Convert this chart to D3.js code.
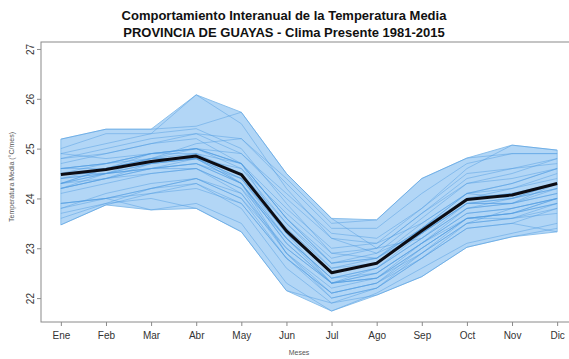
<!DOCTYPE html>
<html>
<head>
<meta charset="utf-8">
<script src="https://cdn.jsdelivr.net/npm/d3@7"></script>
<style>
  html, body { margin: 0; padding: 0; background: #fff; }
  svg { display: block; }
  text { font-family: "Liberation Sans", Arial, Helvetica, sans-serif; }
</style>
</head>
<body>
<svg id="chart" width="569" height="359"></svg>
<script>
// Monthly mean temperature, Guayas province, 1981-2015
const months = ["Ene", "Feb", "Mar", "Abr", "May", "Jun", "Jul", "Ago", "Sep", "Oct", "Nov", "Dic"];
const yTicks = [22, 23, 24, 25, 26, 27];

// Envelope of all years (max / min per month)
const bandMax = [25.19, 25.39, 25.39, 26.08, 25.73, 24.50, 23.60, 23.57, 24.40, 24.81, 25.07, 24.97];
const bandMin = [23.47, 23.87, 23.77, 23.80, 23.33, 22.15, 21.74, 22.06, 22.43, 23.02, 23.23, 23.33];

// Multi-year monthly mean
const meanTemp = [24.48, 24.58, 24.74, 24.85, 24.48, 23.35, 22.51, 22.70, 23.35, 23.98, 24.07, 24.30];

// One row per year
const years = [1981, 1982, 1983, 1984, 1985, 1986, 1987, 1988, 1989, 1990, 1991, 1992,
  1993, 1994, 1995, 1996, 1997, 1998, 1999, 2000, 2001, 2002, 2003, 2004, 2005, 2006,
  2007, 2008, 2009, 2010, 2011, 2012, 2013, 2014, 2015];
const annualTemps = [
  [24.2, 24.5, 24.6, 24.7, 24.3, 23.1, 22.3, 22.5, 23.1, 23.6, 23.7, 24.0],
  [24.6, 24.7, 24.9, 25.0, 24.9, 24.1, 23.3, 23.2, 23.8, 24.6, 25.07, 24.97],
  [25.19, 25.39, 25.39, 25.45, 25.73, 24.5, 23.6, 23.0, 23.2, 23.9, 23.9, 24.2],
  [24.1, 24.3, 24.5, 24.6, 24.2, 23.2, 22.4, 22.5, 23.1, 23.7, 23.8, 24.0],
  [23.9, 24.0, 24.2, 24.3, 23.8, 22.6, 21.9, 22.2, 22.8, 23.4, 23.5, 23.8],
  [23.8, 24.1, 24.3, 24.4, 24.0, 23.0, 22.3, 22.6, 23.3, 24.0, 24.2, 24.5],
  [24.8, 25.0, 25.2, 25.3, 24.9, 24.0, 23.2, 23.1, 23.5, 24.1, 24.0, 24.3],
  [24.4, 24.5, 24.6, 24.6, 24.2, 22.9, 22.0, 22.2, 22.8, 23.5, 23.6, 23.7],
  [23.47, 23.87, 24.1, 24.3, 23.9, 22.8, 22.1, 22.3, 22.9, 23.5, 23.8, 24.0],
  [24.3, 24.4, 24.6, 24.7, 24.3, 23.2, 22.4, 22.6, 23.2, 23.8, 23.9, 24.3],
  [24.4, 24.6, 24.9, 25.0, 24.7, 23.6, 22.7, 22.8, 23.4, 24.1, 24.3, 24.6],
  [24.9, 25.1, 25.3, 25.4, 25.0, 23.9, 22.9, 22.8, 23.3, 23.9, 24.0, 24.2],
  [24.6, 24.7, 24.9, 25.0, 24.6, 23.5, 22.6, 22.7, 23.3, 23.9, 24.0, 24.3],
  [24.2, 24.4, 24.6, 24.7, 24.4, 23.3, 22.5, 22.7, 23.4, 24.1, 24.3, 24.6],
  [24.6, 24.7, 24.8, 24.8, 24.4, 23.2, 22.3, 22.4, 23.0, 23.6, 23.7, 23.9],
  [23.9, 24.0, 24.1, 24.2, 23.9, 22.8, 22.0, 22.2, 22.9, 23.6, 23.6, 23.9],
  [24.3, 24.5, 24.8, 25.1, 25.2, 24.4, 23.5, 23.57, 24.4, 24.81, 24.9, 24.9],
  [25.0, 25.3, 25.3, 26.08, 25.5, 24.2, 23.2, 22.9, 23.3, 23.9, 23.9, 24.1],
  [23.9, 24.0, 23.77, 23.9, 23.5, 22.3, 21.74, 22.1, 22.6, 23.1, 23.3, 23.5],
  [23.7, 23.9, 24.0, 23.8, 23.33, 22.15, 21.9, 22.06, 22.43, 23.02, 23.23, 23.4],
  [24.3, 24.5, 24.7, 24.8, 24.3, 23.1, 22.3, 22.5, 23.1, 23.7, 23.8, 24.0],
  [24.5, 24.7, 24.9, 25.0, 24.7, 23.6, 22.8, 23.0, 23.7, 24.3, 24.4, 24.6],
  [24.6, 24.6, 24.7, 24.8, 24.4, 23.3, 22.5, 22.7, 23.4, 24.0, 24.1, 24.3],
  [24.4, 24.5, 24.7, 24.9, 24.5, 23.4, 22.6, 22.8, 23.5, 24.1, 24.2, 24.4],
  [24.5, 24.5, 24.6, 24.8, 24.3, 23.2, 22.4, 22.6, 23.2, 23.8, 23.9, 24.1],
  [24.3, 24.6, 24.8, 24.8, 24.5, 23.5, 22.7, 22.9, 23.6, 24.3, 24.5, 24.8],
  [24.9, 24.8, 24.9, 24.9, 24.3, 22.9, 22.1, 22.3, 22.8, 23.4, 23.5, 23.33],
  [23.6, 23.9, 24.2, 24.4, 24.0, 22.8, 22.1, 22.3, 23.0, 23.6, 23.7, 23.9],
  [24.2, 24.4, 24.7, 24.8, 24.6, 23.7, 22.9, 23.0, 23.7, 24.4, 24.6, 24.8],
  [24.7, 24.9, 25.1, 25.2, 24.7, 23.3, 22.3, 22.4, 22.9, 23.5, 23.6, 23.8],
  [23.8, 24.0, 24.2, 24.4, 24.1, 23.0, 22.3, 22.4, 23.0, 23.6, 23.7, 24.0],
  [24.3, 24.6, 24.8, 25.0, 24.7, 23.6, 22.7, 22.8, 23.4, 24.0, 24.1, 24.3],
  [24.2, 24.4, 24.5, 24.6, 24.1, 22.9, 22.2, 22.4, 23.1, 23.8, 24.0, 24.2],
  [24.5, 24.6, 24.8, 24.9, 24.7, 23.8, 23.0, 23.1, 23.8, 24.5, 24.6, 24.7],
  [24.8, 24.9, 25.1, 25.3, 25.2, 24.3, 23.4, 23.4, 24.1, 24.7, 24.9, 24.9]
];

const svg = d3.select("#chart");

// Plot frame (the right side runs past the visible canvas)
const frame = { left: 41, right: 577, top: 42, bottom: 322 };

const x = d3.scaleLinear().domain([0.56, 12.44]).range([frame.left, frame.right]);
const y = d3.scaleLinear().domain([21.52, 27.14]).range([frame.bottom, frame.top]);

const monthIdx = months.map((m, i) => i + 1);

// Min-max envelope
const area = d3.area()
  .x((d, i) => x(i + 1))
  .y0((d, i) => y(bandMin[i]))
  .y1(d => y(d));
svg.append("path")
  .datum(bandMax)
  .attr("d", area)
  .attr("fill", "#b2d6f6")
  .attr("stroke", "#8cc0ec")
  .attr("stroke-width", 1);

// Individual years
const line = d3.line().x((d, i) => x(i + 1)).y(d => y(d));
svg.append("g")
  .selectAll("path")
  .data(annualTemps)
  .join("path")
  .attr("d", line)
  .attr("fill", "none")
  .attr("stroke", "#4f9be0")
  .attr("stroke-opacity", 0.55)
  .attr("stroke-width", 0.85);

// Mean curve
svg.append("path")
  .datum(meanTemp)
  .attr("d", line)
  .attr("fill", "none")
  .attr("stroke", "#0d0d14")
  .attr("stroke-width", 3)
  .attr("stroke-linejoin", "round");

// Frame box
svg.append("rect")
  .attr("x", frame.left).attr("y", frame.top)
  .attr("width", frame.right - frame.left).attr("height", frame.bottom - frame.top)
  .attr("fill", "none")
  .attr("stroke", "#8a8a8a")
  .attr("stroke-width", 1);

// X axis
const xAxis = svg.append("g")
  .attr("transform", `translate(0,${frame.bottom})`)
  .call(d3.axisBottom(x).tickValues(monthIdx).tickFormat(d => months[d - 1]).tickSize(4).tickSizeOuter(0));
xAxis.select(".domain").remove();
xAxis.selectAll(".tick line").attr("stroke", "#8a8a8a");
xAxis.selectAll(".tick text")
  .attr("y", 10)
  .attr("font-size", 10)
  .attr("fill", "#333");

// Y axis with rotated labels
const yAxis = svg.append("g")
  .attr("transform", `translate(${frame.left},0)`)
  .call(d3.axisLeft(y).tickValues(yTicks).tickFormat(d3.format("d")).tickSize(4).tickSizeOuter(0));
yAxis.select(".domain").remove();
yAxis.selectAll(".tick line").attr("stroke", "#8a8a8a");
yAxis.selectAll(".tick text")
  .attr("x", null).attr("dy", null)
  .attr("transform", "translate(-7,0) rotate(-90)")
  .attr("text-anchor", "middle")
  .attr("font-size", 10)
  .attr("fill", "#333");

// Titles
const title = svg.append("g").attr("font-weight", "bold").attr("font-size", 13)
  .attr("text-anchor", "middle").attr("fill", "#111");
title.append("text").attr("x", 284).attr("y", 20)
  .text("Comportamiento Interanual de la Temperatura Media");
title.append("text").attr("x", 284).attr("y", 37)
  .text("PROVINCIA DE GUAYAS - Clima Presente 1981-2015");

svg.append("text")
  .attr("x", 299).attr("y", 355)
  .attr("text-anchor", "middle")
  .attr("font-size", 7)
  .attr("fill", "#555")
  .text("Meses");

svg.append("text")
  .attr("transform", "translate(14,177) rotate(-90)")
  .attr("text-anchor", "middle")
  .attr("font-size", 7)
  .attr("fill", "#555")
  .text("Temperatura Media (°C/mes)");
</script>
</body>
</html>
